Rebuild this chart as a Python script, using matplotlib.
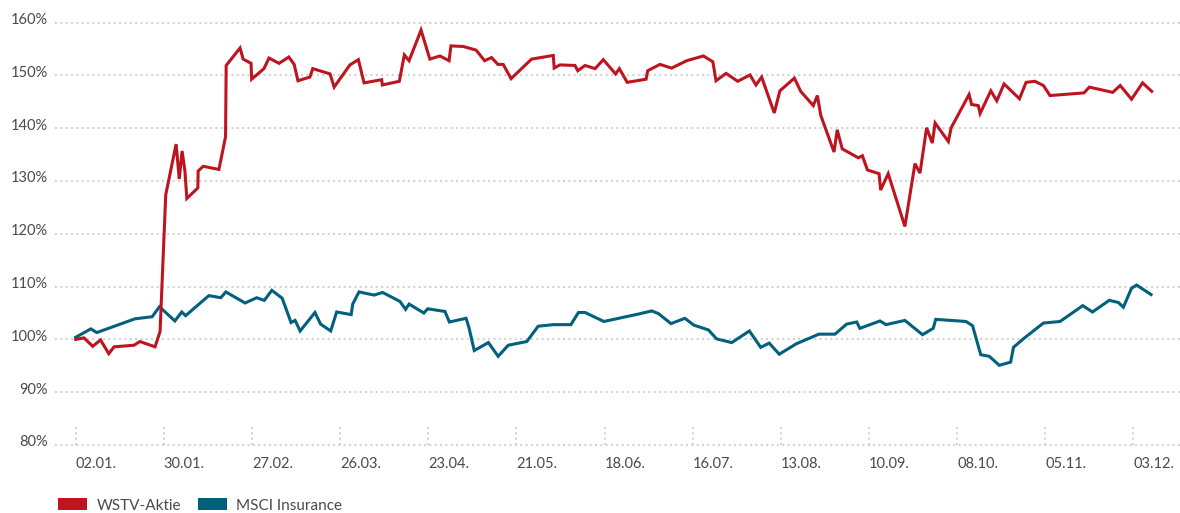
import matplotlib
matplotlib.use("Agg")
import matplotlib.pyplot as plt
from matplotlib.patches import Patch
from matplotlib.transforms import blended_transform_factory

plt.rcParams['font.family'] = ['Lato', 'DejaVu Sans']

# x values: days since 02.01.
tick_days = [0, 28, 56, 84, 112, 140, 168, 196, 224, 252, 280, 308, 336]
tick_labels = ["02.01.", "30.01.", "27.02.", "26.03.", "23.04.", "21.05.", "18.06.",
               "16.07.", "13.08.", "10.09.", "08.10.", "05.11.", "03.12."]
y_ticks = [80, 90, 100, 110, 120, 130, 140, 150, 160]
y_labels = ["80%", "90%", "100%", "110%", "120%", "130%", "140%", "150%", "160%"]

wstv_days = [0, 2.6, 5.4, 7.9, 10.5, 12.2, 18.5, 20.4, 25.2, 26.8, 28.6, 31.9, 32.9, 33.8,
             34.7, 35.3, 38.8, 38.9, 40.5, 45.5, 47.6, 47.8, 52.2, 53.2, 55.7, 55.9, 59.8,
             61.4, 64.6, 67.7, 69.4, 70.6, 74.4, 75.3, 80.8, 82.1, 87.1, 89.8, 91.6, 97.2,
             97.4, 102.8, 104.4, 105.9, 109.7, 112.5, 115.7, 118.6, 119.2, 123.1, 127.2,
             129.9, 132.1, 134.1, 135.8, 138.3, 144.8, 151.7, 152.0, 153.8, 158.6, 159.5,
             161.8, 165.0, 167.6, 171.5, 172.7, 175.2, 181.2, 181.7, 185.6, 189.3, 194.1,
             199.4, 202.4, 203.4, 206.6, 210.3, 214.2, 216.1, 217.9, 221.9, 223.7, 228.3,
             230.3, 234.3, 235.6, 236.7, 240.9, 241.9, 243.5, 248.6, 249.9, 251.5, 255.2,
             255.7, 258.1, 263.4, 266.6, 268.2, 270.3, 272.1, 273.0, 277.2, 278.1, 283.8,
             284.6, 286.7, 287.3, 290.7, 292.6, 294.9, 299.8, 301.9, 304.7, 307.4, 309.5,
             320.3, 322.0, 329.4, 331.8, 335.4, 338.9, 341.8]
wstv_vals = [100.0, 100.3, 98.7, 99.9, 97.3, 98.6, 98.9, 99.6, 98.6, 101.5, 127.4, 137.0,
             130.4, 135.7, 131.9, 126.7, 128.7, 131.9, 132.8, 132.2, 138.4, 151.9, 155.2,
             153.1, 152.3, 149.3, 151.3, 153.3, 152.3, 153.5, 152.1, 149.0, 149.7, 151.3,
             150.3, 147.8, 152.0, 153.0, 148.6, 149.2, 148.2, 148.9, 153.9, 152.8, 158.6,
             153.1, 153.7, 152.8, 155.6, 155.5, 154.8, 152.8, 153.4, 152.1, 152.1, 149.4,
             153.1, 153.8, 151.4, 152.0, 151.9, 150.9, 151.9, 151.3, 153.0, 150.3, 151.3,
             148.7, 149.3, 150.9, 152.1, 151.4, 152.8, 153.7, 152.6, 149.0, 150.4, 148.9,
             150.1, 148.2, 149.7, 142.9, 147.1, 149.5, 147.0, 144.3, 146.2, 142.4, 135.5,
             139.7, 136.1, 134.4, 134.8, 132.1, 131.4, 128.3, 131.4, 121.4, 133.3, 131.5,
             140.1, 137.2, 141.0, 137.5, 140.1, 146.4, 144.5, 144.3, 142.8, 147.1, 145.2,
             148.4, 145.6, 148.7, 148.9, 148.1, 146.2, 146.7, 147.8, 146.8, 148.1, 145.5,
             148.6, 147.0]

msci_days = [0, 4.8, 6.7, 18.8, 24.3, 26.6, 31.5, 33.7, 34.9, 42.3, 46.1, 47.7, 53.8, 57.5,
             59.9, 62.3, 65.6, 68.4, 69.7, 71.3, 76.0, 77.8, 81.0, 82.9, 87.5, 88.0, 90.0,
             94.8, 97.5, 103.0, 104.8, 105.9, 110.6, 111.8, 117.3, 118.7, 124.0, 124.9,
             126.6, 131.1, 134.2, 137.4, 143.3, 146.9, 151.7, 157.3, 159.7, 161.8, 167.8,
             178.7, 183.0, 185.1, 189.1, 193.5, 196.4, 201.0, 203.6, 208.4, 214.0, 217.6,
             220.3, 223.5, 229.0, 236.1, 241.2, 244.9, 248.1, 249.1, 255.5, 257.4, 263.4,
             269.0, 272.4, 273.2, 282.8, 284.9, 287.5, 290.2, 293.4, 297.0, 297.9, 301.0,
             307.4, 312.7, 319.9, 323.0, 328.3, 331.2, 332.8, 335.4, 337.0, 341.6]
msci_vals = [100.4, 102.0, 101.3, 103.9, 104.3, 106.2, 103.5, 105.2, 104.5, 108.3, 107.9,
             109.0, 106.9, 107.9, 107.4, 109.3, 107.8, 103.2, 103.6, 101.6, 105.1, 102.9,
             101.6, 105.2, 104.7, 106.7, 109.0, 108.4, 108.9, 107.2, 105.7, 106.7, 105.0,
             105.8, 105.3, 103.3, 104.0, 102.3, 97.9, 99.4, 96.8, 98.9, 99.6, 102.5, 102.8,
             102.8, 105.1, 105.1, 103.4, 104.8, 105.4, 104.9, 103.0, 104.0, 102.7, 101.8,
             100.1, 99.4, 101.6, 98.5, 99.3, 97.2, 99.2, 101.0, 101.0, 102.9, 103.3, 102.1,
             103.5, 102.8, 103.6, 100.9, 102.1, 103.8, 103.4, 102.6, 97.1, 96.8, 95.1, 95.7,
             98.5, 100.1, 103.1, 103.4, 106.4, 105.2, 107.4, 107.0, 106.1, 109.7, 110.3,
             108.5]

series_names = ["WSTV-Aktie", "MSCI Insurance"]
RED = "#BE1420"
BLUE = "#00607D"
TEXT = "#4A4A4A"
GRID = "#CFCFCF"

W, H = 1180, 513
fig = plt.figure(figsize=(W / 100, H / 100), dpi=100)
left_px, right_px, top_px, bottom_px = 55, 1180, 22.7, 445
ax = fig.add_axes([left_px / W, 1 - bottom_px / H, (right_px - left_px) / W,
                   (bottom_px - top_px) / H])
ax.set_xlim((left_px - 75.7) / 3.148, (right_px - 75.7) / 3.148)
ax.set_ylim(80, 160)
for s in ax.spines.values():
    s.set_visible(False)
ax.set_xticks([])
ax.set_yticks([])
ax.patch.set_alpha(0)

dot = (0, (1, 1.75))
for v in y_ticks:
    ax.axhline(v, color=GRID, lw=1.4, ls=dot, dash_capstyle='butt', zorder=0, clip_on=False)

ax.vlines(tick_days, 80, 83.4, colors=GRID, lw=1.4, linestyles=[dot], zorder=0)

ytr = blended_transform_factory(ax.transAxes, ax.transData)
for v, lab in zip(y_ticks, y_labels):
    ax.text(-7 / (right_px - left_px), v - 0.25, lab, transform=ytr, ha='right',
            va='baseline', fontsize=10.5, color=TEXT)

xtr = blended_transform_factory(ax.transData, fig.transFigure)
for d, lab in zip(tick_days, tick_labels):
    ax.text(d, 1 - 468 / H, lab, transform=xtr, ha='left', va='baseline',
            fontsize=10.5, color=TEXT)

ax.plot(wstv_days, wstv_vals, color=RED, lw=2.2, solid_joinstyle='miter', zorder=3)
ax.plot(msci_days, msci_vals, color=BLUE, lw=2.2, solid_joinstyle='miter', zorder=2)

handles = [Patch(facecolor=RED, edgecolor='none'), Patch(facecolor=BLUE, edgecolor='none')]
fs = 11
fpx = fs * 100 / 72
fig.legend(handles, series_names, loc='lower left', bbox_to_anchor=(58 / W, 0.5 / H),
           ncol=2, frameon=False, fontsize=fs, labelcolor=TEXT, borderpad=0,
           borderaxespad=0, handlelength=29 / fpx, handleheight=13 / fpx,
           handletextpad=10 / fpx, columnspacing=16 / fpx)

fig.savefig("out.png", dpi=100)
